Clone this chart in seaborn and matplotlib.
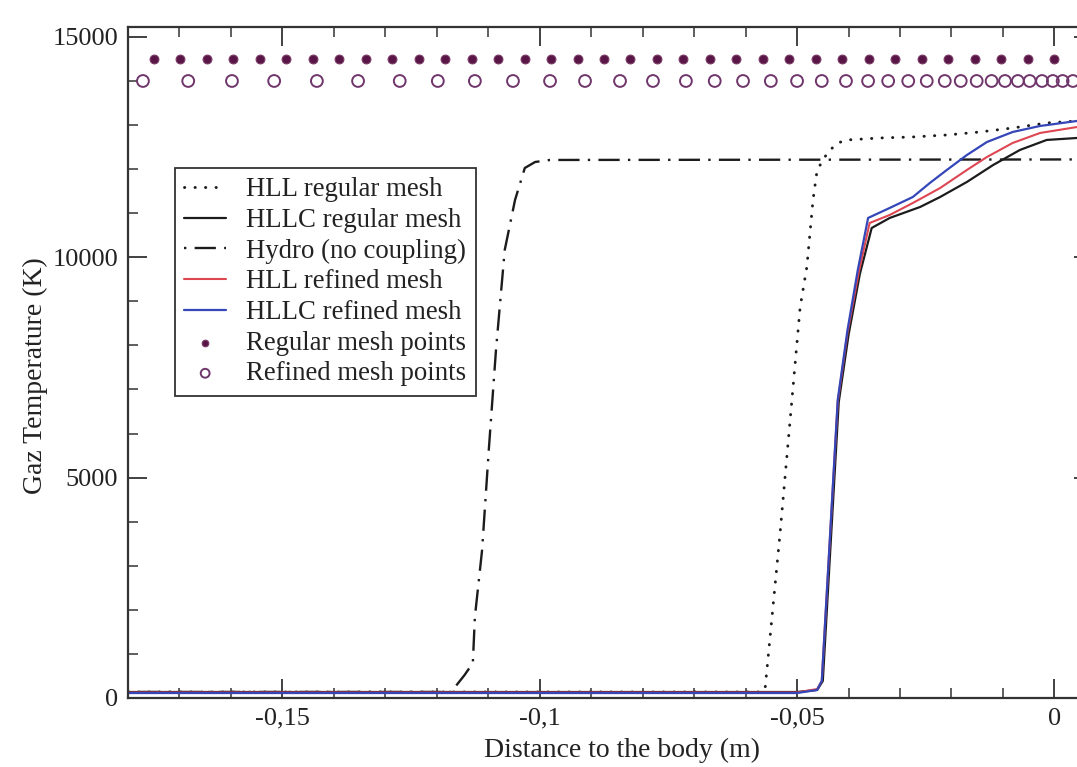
import matplotlib
matplotlib.use("Agg")
import matplotlib.pyplot as plt
from matplotlib.ticker import FixedLocator, FixedFormatter, MultipleLocator
import seaborn as sns

# ---- Gas temperature profiles ahead of the body (x in m, T in K) ----
hll_reg_x = [-0.180, -0.0568, -0.0562, -0.0533, -0.0494, -0.0481, -0.0469, -0.0461,
             -0.0440, -0.0421, -0.0403, -0.0339, -0.0275, -0.0209, -0.0145, -0.0081,
             -0.0015, 0.0044]
hll_reg_t = [136, 136, 227, 3744, 8872, 9780, 11300, 11981,
             12389, 12593, 12662, 12707, 12730, 12775, 12843, 12934,
             13047, 13093]

hllc_reg_x = [-0.180, -0.0500, -0.0461, -0.0450, -0.0419, -0.0400, -0.0378, -0.0355,
              -0.0320, -0.0261, -0.0222, -0.0170, -0.0119, -0.0067, -0.0015, 0.0044]
hllc_reg_t = [136, 136, 182, 386, 6717, 8237, 9621, 10665,
              10892, 11141, 11368, 11709, 12094, 12435, 12662, 12707]

hydro_x = [-0.180, -0.1171, -0.1163, -0.1146, -0.1130, -0.1126, -0.1112, -0.1099,
           -0.1085, -0.1068, -0.1048, -0.1029, -0.1009, -0.0980, 0.0050]
hydro_t = [136, 136, 272, 522, 794, 1838, 3358, 5627,
           7897, 10166, 11300, 12026, 12162, 12208, 12220]

hll_ref_x = [-0.180, -0.0500, -0.0461, -0.0452, -0.0421, -0.0402, -0.0380, -0.0359,
             -0.0320, -0.0275, -0.0222, -0.0170, -0.0131, -0.0081, -0.0028, 0.0044]
hll_ref_t = [125, 125, 204, 386, 6717, 8282, 9666, 10778,
             10960, 11232, 11572, 11981, 12276, 12594, 12820, 12956]

hllc_ref_x = [-0.180, -0.0500, -0.0461, -0.0452, -0.0421, -0.0402, -0.0382, -0.0362,
              -0.0320, -0.0275, -0.0242, -0.0209, -0.0170, -0.0131, -0.0081, -0.0028,
              0.0044]
hllc_ref_t = [113, 113, 182, 386, 6762, 8350, 9712, 10892,
              11119, 11368, 11686, 11981, 12321, 12616, 12843, 12979,
              13093]

# ---- Mesh node locations (drawn as markers on fixed levels) ----
regular_mesh_x = [-0.1750, -0.1699, -0.1647, -0.1596, -0.1544, -0.1493, -0.1441,
                  -0.1390, -0.1338, -0.1287, -0.1235, -0.1184, -0.1132, -0.1081,
                  -0.1029, -0.0978, -0.0926, -0.0875, -0.0824, -0.0772, -0.0721,
                  -0.0669, -0.0618, -0.0566, -0.0515, -0.0463, -0.0412, -0.0360,
                  -0.0309, -0.0257, -0.0206, -0.0154, -0.0103, -0.0051, 0.0000]
regular_mesh_level = 14500

refined_mesh_x = [-0.1771, -0.1683, -0.1598, -0.1516, -0.1433, -0.1353, -0.1272,
                  -0.1198, -0.1126, -0.1052, -0.0980, -0.0912, -0.0844, -0.0780,
                  -0.0716, -0.0660, -0.0605, -0.0551, -0.0500, -0.0452, -0.0405,
                  -0.0362, -0.0323, -0.0284, -0.0248, -0.0213, -0.0182, -0.0151,
                  -0.0122, -0.0096, -0.0071, -0.0048, -0.0024, -0.0003, 0.0016,
                  0.0036]
refined_mesh_level = 14000

x_ticks = [-0.15, -0.1, -0.05, 0.0]
x_tick_labels = ["-0,15", "-0,1", "-0,05", "0"]
y_ticks = [0, 5000, 10000, 15000]
y_tick_labels = ["0", "5000", "10000", "15000"]

sns.set_theme(style="ticks")
plt.rcParams["font.family"] = ["Liberation Serif", "DejaVu Serif"]

W, H = 1077, 767
fig = plt.figure(figsize=(W / 100, H / 100), dpi=100)
fig.patch.set_facecolor("white")
ax_l, ax_r, ax_t, ax_b = 128, 1093, 27, 698
ax = fig.add_axes([ax_l / W, 1 - ax_b / H, (ax_r - ax_l) / W, (ax_b - ax_t) / H])
ax.set_facecolor("white")

ink = "#1c1c1c"
red = "#de4652"
blue = "#3546b8"
mesh_col = "#581545"
ring_col = "#70366c"

common = dict(ax=ax, sort=False, estimator=None)
sns.lineplot(x=hydro_x, y=hydro_t, color=ink, lw=1.7,
             linestyle=(12.5, (9, 3.5, 1, 3.5)),
             label="Hydro (no coupling)", **common)
sns.lineplot(x=hll_reg_x, y=hll_reg_t, color=ink, lw=2.1,
             linestyle=(0, (0.1, 3.5)), dash_capstyle="round",
             label="HLL regular mesh", **common)
sns.lineplot(x=hllc_reg_x, y=hllc_reg_t, color=ink, lw=1.6,
             label="HLLC regular mesh", **common)
sns.lineplot(x=hll_ref_x, y=hll_ref_t, color=red, lw=1.5,
             label="HLL refined mesh", **common)
sns.lineplot(x=hllc_ref_x, y=hllc_ref_t, color=blue, lw=1.6,
             label="HLLC refined mesh", **common)

sns.scatterplot(x=regular_mesh_x, y=[regular_mesh_level] * len(regular_mesh_x),
                marker="o", s=40, color=mesh_col, edgecolor="#7a3a66", linewidth=0.8,
                label="Regular mesh points", ax=ax, zorder=3)
sns.scatterplot(x=refined_mesh_x, y=[refined_mesh_level] * len(refined_mesh_x),
                marker="o", s=72, facecolor="none", edgecolor=ring_col, linewidth=1.4,
                label="Refined mesh points", ax=ax, zorder=3)

ax.set_xlim(-0.180, 0.0075)
ax.set_ylim(0, 15225)

ax.xaxis.set_major_locator(FixedLocator(x_ticks))
ax.xaxis.set_major_formatter(FixedFormatter(x_tick_labels))
ax.xaxis.set_minor_locator(MultipleLocator(0.01))
ax.yaxis.set_major_locator(FixedLocator(y_ticks))
ax.yaxis.set_major_formatter(FixedFormatter(y_tick_labels))
ax.yaxis.set_minor_locator(MultipleLocator(1000))

axis_col = "#333333"
ax.tick_params(which="both", direction="in", top=True, right=True,
               color=axis_col, labelcolor="#222222")
ax.tick_params(which="major", length=14, width=1.3, labelsize=19)
ax.tick_params(which="minor", length=7, width=1.1)
ax.tick_params(axis="x", pad=7)
ax.tick_params(axis="y", pad=7)
for sp in ax.spines.values():
    sp.set_visible(True)
    sp.set_color(axis_col)
    sp.set_linewidth(1.6)

ax.set_xlabel("Distance to the body (m)", fontsize=20, color="#222222")
ax.set_ylabel("Gaz Temperature (K)", fontsize=20, color="#222222")
ax.xaxis.set_label_coords((622 - ax_l) / (ax_r - ax_l), -(738 - ax_b) / (ax_b - ax_t))
ax.yaxis.set_label_coords((48 - ax_l) / (ax_r - ax_l), (ax_b - 376) / (ax_b - ax_t))

order = ["HLL regular mesh", "HLLC regular mesh", "Hydro (no coupling)",
         "HLL refined mesh", "HLLC refined mesh",
         "Regular mesh points", "Refined mesh points"]
handles, labels = ax.get_legend_handles_labels()
lookup = dict(zip(labels, handles))
leg = ax.legend([lookup[k] for k in order], order,
                loc="upper left", bbox_to_anchor=(175 / W, 1 - 168 / H),
                bbox_transform=fig.transFigure, borderaxespad=0,
                frameon=True, fancybox=False, shadow=False, fontsize=19.3,
                handlelength=1.55, handletextpad=0.75, borderpad=0.35,
                labelspacing=0.21, scatterpoints=1, markerscale=0.75)
frame = leg.get_frame()
frame.set_edgecolor(axis_col)
frame.set_linewidth(1.3)
frame.set_facecolor("white")
frame.set_alpha(1.0)
for t in leg.get_texts():
    t.set_color("#222222")

fig.savefig("out.png", dpi=100, facecolor="white")
